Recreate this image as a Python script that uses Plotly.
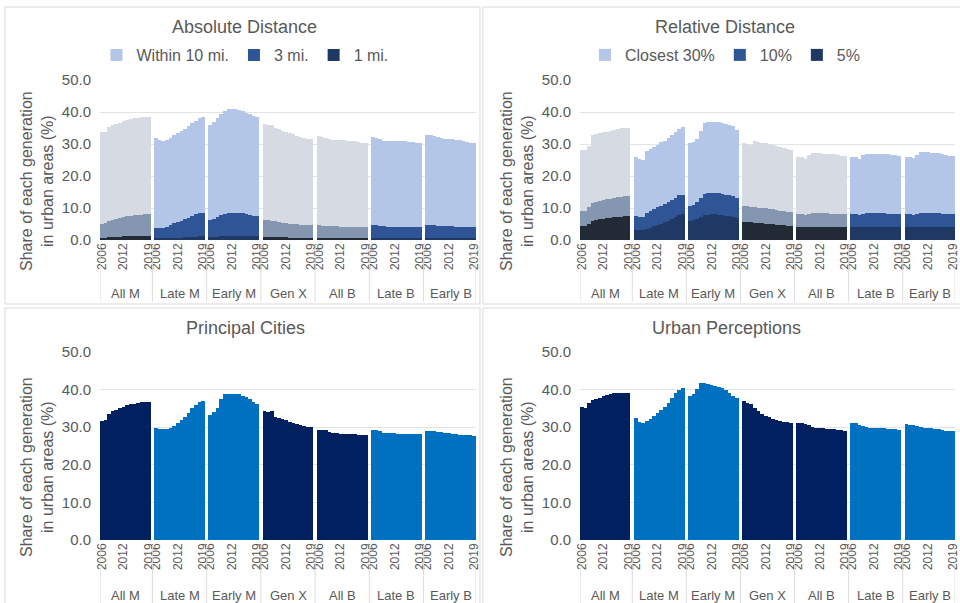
import plotly.graph_objects as go

# ---------------- data ----------------
YEARS = list(range(2006, 2020))
GROUPS = ["All M", "Late M", "Early M", "Gen X", "All B", "Late B", "Early B"]
TICK_YEARS = [2006, 2012, 2019]
Y_TICKS = [0, 10, 20, 30, 40, 50]
GREY_GROUPS = ["All M", "Gen X", "All B"]

# Absolute distance (share within X miles), one row per group
ABS_10MI = [
    [33.6, 33.8, 35.3, 35.8, 36.3, 36.7, 37.1, 37.5, 37.8, 38.0, 38.2, 38.3, 38.4, 38.4],
    [31.8, 31.2, 31.0, 31.4, 32.0, 32.7, 33.3, 34.0, 34.8, 35.5, 36.5, 37.3, 38.0, 38.5],
    [36.0, 37.0, 38.0, 39.5, 40.4, 40.8, 40.9, 40.8, 40.6, 40.2, 39.8, 39.3, 38.8, 38.3],
    [36.2, 36.0, 35.8, 35.0, 34.6, 34.2, 33.8, 33.4, 33.0, 32.6, 32.3, 32.0, 31.7, 31.6],
    [32.4, 32.3, 32.0, 31.5, 31.3, 31.2, 31.1, 31.1, 31.0, 30.9, 30.8, 30.6, 30.4, 30.3],
    [32.2, 32.0, 31.5, 31.0, 30.9, 30.8, 30.8, 30.8, 30.8, 30.8, 30.7, 30.5, 30.3, 30.2],
    [32.8, 32.7, 32.6, 32.3, 31.8, 31.6, 31.5, 31.5, 31.3, 31.1, 30.9, 30.6, 30.4, 30.3],
]
ABS_3MI = [
    [5.0, 5.3, 5.8, 6.3, 6.7, 7.0, 7.2, 7.4, 7.6, 7.7, 7.8, 7.9, 8.0, 8.0],
    [3.8, 3.7, 3.8, 4.2, 4.7, 5.2, 5.6, 6.0, 6.5, 7.0, 7.5, 8.0, 8.3, 8.3],
    [6.2, 6.5, 7.2, 7.8, 8.2, 8.4, 8.4, 8.5, 8.4, 8.3, 8.0, 7.8, 7.6, 7.5],
    [6.3, 6.2, 6.0, 5.8, 5.6, 5.4, 5.2, 5.1, 5.0, 4.9, 4.8, 4.7, 4.6, 4.6],
    [4.6, 4.5, 4.5, 4.4, 4.3, 4.3, 4.2, 4.2, 4.2, 4.1, 4.1, 4.1, 4.1, 4.1],
    [4.7, 4.6, 4.5, 4.3, 4.2, 4.2, 4.2, 4.2, 4.2, 4.2, 4.2, 4.1, 4.1, 4.1],
    [4.6, 4.6, 4.6, 4.5, 4.4, 4.3, 4.3, 4.3, 4.2, 4.2, 4.1, 4.1, 4.0, 4.0],
]
ABS_1MI = [
    [0.6, 0.7, 0.8, 0.9, 1.0, 1.0, 1.1, 1.2, 1.2, 1.3, 1.3, 1.4, 1.4, 1.4],
    [0.4, 0.4, 0.4, 0.5, 0.5, 0.6, 0.7, 0.7, 0.8, 0.9, 0.9, 1.0, 1.1, 1.1],
    [0.8, 0.9, 1.0, 1.1, 1.2, 1.2, 1.3, 1.3, 1.2, 1.2, 1.2, 1.1, 1.1, 1.1],
    [0.9, 0.9, 0.9, 0.8, 0.8, 0.8, 0.8, 0.7, 0.7, 0.7, 0.7, 0.7, 0.7, 0.7],
    [0.6, 0.6, 0.6, 0.6, 0.6, 0.6, 0.6, 0.6, 0.6, 0.6, 0.6, 0.6, 0.6, 0.6],
    [0.6, 0.6, 0.6, 0.6, 0.6, 0.6, 0.6, 0.6, 0.6, 0.6, 0.6, 0.6, 0.6, 0.6],
    [0.6, 0.6, 0.6, 0.6, 0.6, 0.6, 0.6, 0.6, 0.6, 0.6, 0.6, 0.6, 0.6, 0.6],
]

# Relative distance (closest X% of tracts)
REL_30 = [
    [28.0, 28.1, 29.5, 32.7, 33.0, 33.3, 33.6, 33.9, 34.2, 34.5, 34.7, 34.9, 35.0, 35.0],
    [25.8, 25.2, 25.0, 27.8, 28.5, 29.2, 29.8, 30.5, 31.0, 31.8, 32.8, 33.8, 34.8, 35.2],
    [30.2, 30.5, 31.5, 34.0, 36.7, 37.0, 37.0, 37.0, 36.8, 36.6, 36.3, 36.0, 35.5, 34.5],
    [30.2, 30.0, 29.8, 30.8, 30.7, 30.4, 30.2, 29.9, 29.6, 29.3, 29.0, 28.7, 28.4, 28.2],
    [25.8, 25.8, 25.4, 26.6, 27.3, 27.2, 27.1, 27.0, 27.0, 26.9, 26.8, 26.6, 26.4, 26.3],
    [25.9, 25.8, 25.4, 26.6, 27.0, 27.0, 27.0, 27.0, 27.0, 26.9, 26.8, 26.7, 26.5, 26.4],
    [26.0, 25.8, 25.7, 26.6, 27.6, 27.5, 27.4, 27.3, 27.2, 27.1, 26.9, 26.7, 26.4, 26.2],
]
REL_10 = [
    [9.0, 9.2, 10.2, 11.7, 12.0, 12.3, 12.5, 12.7, 12.9, 13.1, 13.3, 13.5, 13.6, 13.6],
    [7.5, 7.3, 7.2, 8.5, 9.2, 9.8, 10.2, 10.7, 11.2, 11.8, 12.5, 13.2, 14.0, 14.2],
    [10.5, 11.0, 11.8, 13.0, 14.5, 14.7, 14.8, 14.8, 14.6, 14.4, 14.2, 14.0, 13.6, 13.2],
    [10.5, 10.5, 10.4, 10.3, 10.1, 10.0, 9.9, 9.8, 9.6, 9.4, 9.2, 9.0, 8.9, 8.8],
    [8.2, 8.0, 7.8, 8.2, 8.3, 8.3, 8.3, 8.3, 8.3, 8.2, 8.2, 8.1, 8.1, 8.0],
    [8.2, 8.1, 7.9, 8.2, 8.3, 8.3, 8.3, 8.3, 8.3, 8.3, 8.2, 8.2, 8.1, 8.1],
    [8.1, 8.0, 7.9, 8.2, 8.5, 8.5, 8.4, 8.4, 8.3, 8.3, 8.2, 8.2, 8.1, 8.0],
]
REL_5 = [
    [4.3, 4.5, 5.0, 6.0, 6.3, 6.5, 6.7, 6.9, 7.0, 7.1, 7.2, 7.3, 7.4, 7.4],
    [3.2, 3.0, 3.0, 3.5, 3.9, 4.3, 4.7, 5.1, 5.5, 6.0, 6.6, 7.2, 7.8, 8.0],
    [5.8, 6.2, 6.7, 7.2, 7.8, 7.9, 8.0, 8.0, 7.9, 7.8, 7.6, 7.4, 7.2, 7.0],
    [5.7, 5.6, 5.5, 5.4, 5.3, 5.2, 5.1, 5.0, 4.9, 4.8, 4.7, 4.6, 4.5, 4.4],
    [4.1, 4.0, 4.0, 4.0, 4.0, 4.0, 4.0, 4.0, 4.0, 4.0, 4.0, 4.0, 4.0, 4.0],
    [4.0, 4.0, 4.0, 4.0, 4.0, 4.0, 4.0, 4.0, 4.0, 4.0, 4.0, 4.0, 4.0, 4.0],
    [4.0, 4.0, 4.0, 4.0, 4.0, 4.0, 4.0, 4.0, 4.0, 4.0, 4.0, 4.0, 4.0, 4.0],
]

PRINCIPAL_CITIES = [
    [31.6, 31.8, 33.5, 34.2, 34.7, 35.1, 35.5, 35.8, 36.1, 36.3, 36.5, 36.6, 36.6, 36.6],
    [29.8, 29.4, 29.4, 29.5, 29.8, 30.3, 31.0, 31.8, 32.7, 33.8, 35.0, 36.0, 36.6, 37.0],
    [33.3, 34.0, 35.0, 37.5, 38.8, 38.8, 38.8, 38.8, 38.7, 38.4, 38.0, 37.5, 36.8, 36.2],
    [34.2, 34.0, 34.4, 32.8, 32.4, 32.1, 31.8, 31.5, 31.2, 30.9, 30.6, 30.3, 30.1, 30.0],
    [29.2, 29.2, 29.3, 28.6, 28.5, 28.4, 28.3, 28.3, 28.2, 28.2, 28.1, 28.0, 28.0, 27.9],
    [29.2, 29.2, 29.0, 28.4, 28.4, 28.4, 28.4, 28.3, 28.3, 28.3, 28.3, 28.2, 28.2, 28.1],
    [29.0, 29.0, 29.1, 28.8, 28.6, 28.5, 28.4, 28.3, 28.2, 28.0, 27.9, 27.9, 27.8, 27.6],
]
URBAN_PERCEPTIONS = [
    [35.3, 35.2, 36.5, 37.2, 37.6, 37.9, 38.2, 38.5, 38.8, 39.0, 39.1, 39.1, 39.1, 39.0],
    [32.4, 31.5, 31.2, 31.6, 32.3, 33.0, 33.8, 34.6, 35.5, 36.5, 37.7, 39.0, 39.8, 40.3],
    [38.3, 38.8, 40.2, 41.8, 41.8, 41.5, 41.2, 41.0, 40.8, 40.5, 39.8, 39.0, 38.3, 37.9],
    [37.0, 36.5, 36.2, 35.0, 34.2, 33.6, 33.1, 32.7, 32.3, 32.0, 31.7, 31.4, 31.3, 31.2],
    [31.2, 31.0, 30.8, 30.5, 30.1, 29.9, 29.8, 29.7, 29.6, 29.5, 29.4, 29.3, 29.2, 29.1],
    [31.2, 31.0, 30.7, 30.3, 30.0, 29.9, 29.8, 29.8, 29.7, 29.7, 29.6, 29.5, 29.4, 29.3],
    [30.8, 30.6, 30.6, 30.3, 30.0, 29.9, 29.8, 29.7, 29.6, 29.4, 29.3, 29.1, 29.0, 28.9],
]

# ---------------- style ----------------
W, H = 960, 603
FONT = "Liberation Sans, Arial, sans-serif"
TXT = "#595959"
GAP = 1.0
NY = len(YEARS)
SPAN = len(GROUPS) * NY + (len(GROUPS) - 1) * GAP

GREY_COLS = ["#d6dae3", "#8597b0", "#222a35"]
BLUE_COLS = ["#b4c6e7", "#2f5597", "#1f3864"]
SINGLE_COLS = ["#002060", "#0070c0"]  # grey-groups colour, other groups colour


def px_x(p):
    return p / W


def px_y(p):
    return 1 - p / H


def pos(g, yr):
    return g * (NY + GAP) + (yr - YEARS[0]) + 0.5


PANELS = [
    dict(name="Absolute Distance", ax="", x0=100, x1=476, ytop=80, ybot=240, ox=0,
         tcy=27, gl=293, box=(5, 7, 480, 304), legend="legend", lx=245),
    dict(name="Relative Distance", ax="2", x0=580, x1=955, ytop=80, ybot=240, ox=480,
         tcy=27, gl=293, box=(483, 7, 962, 304), legend="legend2", lx=725),
    dict(name="Principal Cities", ax="3", x0=100, x1=476, ytop=352, ybot=540, ox=0,
         tcy=328, gl=595, box=(5, 308, 480, 605), legend=None, lx=246),
    dict(name="Urban Perceptions", ax="4", x0=580, x1=955, ytop=352, ybot=540, ox=480,
         tcy=328, gl=595, box=(483, 308, 962, 605), legend=None, lx=726),
]

SERIES = [
    [("Within 10 mi.", ABS_10MI), ("3 mi.", ABS_3MI), ("1 mi.", ABS_1MI)],
    [("Closest 30%", REL_30), ("10%", REL_10), ("5%", REL_5)],
    [("Principal Cities", PRINCIPAL_CITIES)],
    [("Urban Perceptions", URBAN_PERCEPTIONS)],
]

fig = go.Figure()
shapes = []
annotations = []

for pi, (panel, series) in enumerate(zip(PANELS, SERIES)):
    xa = "x" + panel["ax"]
    ya = "y" + panel["ax"]
    grey_idx = [GROUPS.index(g) for g in GREY_GROUPS]
    blue_idx = [i for i in range(len(GROUPS)) if i not in grey_idx]
    for si, (sname, data) in enumerate(series):
        for kind, idxs in (("grey", grey_idx), ("blue", blue_idx)):
            xs, ys = [], []
            for g in idxs:
                for k, yr in enumerate(YEARS):
                    xs.append(pos(g, yr))
                    ys.append(data[g][k])
            if len(series) > 1:
                col = GREY_COLS[si] if kind == "grey" else BLUE_COLS[si]
            else:
                col = SINGLE_COLS[0] if kind == "grey" else SINGLE_COLS[1]
            show = panel["legend"] is not None and kind == "blue"
            fig.add_trace(go.Bar(
                x=xs, y=ys, width=1.0, name=sname,
                marker=dict(color=col, line=dict(width=0)),
                xaxis=xa, yaxis=ya, showlegend=show,
                legend=panel["legend"] if panel["legend"] else "legend",
                hoverinfo="skip",
            ))

    tickvals, ticktext = [], []
    for g in range(len(GROUPS)):
        for yr in TICK_YEARS:
            tickvals.append(pos(g, yr))
            ticktext.append(str(yr))
    xkey = "xaxis" + panel["ax"]
    ykey = "yaxis" + panel["ax"]
    fig.layout[xkey] = dict(
        domain=[px_x(panel["x0"]), px_x(panel["x1"])],
        range=[0, SPAN], anchor=ya, showgrid=False, zeroline=False,
        tickmode="array", tickvals=tickvals, ticktext=ticktext, tickangle=-90,
        tickfont=dict(family=FONT, size=12, color=TXT), showline=False,
        ticks="", fixedrange=True, automargin=False, ticklabeloverflow="allow",
    )
    fig.layout[ykey] = dict(
        domain=[px_y(panel["ybot"]), px_y(panel["ytop"])],
        range=[0, 50], anchor=xa, tickmode="array", tickvals=Y_TICKS,
        ticktext=[f"{v:.1f}" for v in Y_TICKS],
        tickfont=dict(family=FONT, size=15, color=TXT),
        showgrid=True, gridcolor="#e4e4e4", gridwidth=1, zeroline=False,
        ticklabelstandoff=8, fixedrange=True, automargin=False,
    )

    annotations.append(dict(
        text=panel["name"], x=px_x(panel["lx"]), y=px_y(panel["tcy"]),
        xref="paper", yref="paper", showarrow=False, xanchor="center", yanchor="middle",
        font=dict(family=FONT, size=18, color=TXT),
    ))
    annotations.append(dict(
        text="Share of each generation<br>in urban areas (%)",
        x=px_x(panel["ox"] + 37), y=px_y((panel["ytop"] + panel["ybot"]) / 2 + 21),
        xref="paper", yref="paper", showarrow=False, textangle=-90,
        xanchor="center", yanchor="middle",
        font=dict(family=FONT, size=16, color=TXT),
    ))
    for g, gname in enumerate(GROUPS):
        annotations.append(dict(
            text=gname, x=(pos(g, YEARS[0]) + pos(g, YEARS[-1])) / 2, xref=xa,
            y=px_y(panel["gl"]), yref="paper", showarrow=False,
            xanchor="center", yanchor="middle",
            font=dict(family=FONT, size=13, color=TXT),
        ))
    seps = [0] + [g * (NY + GAP) - GAP / 2 for g in range(1, len(GROUPS))] + [SPAN]
    for s in seps:
        shapes.append(dict(
            type="line", xref=xa, yref="paper", x0=s, x1=s,
            y0=px_y(panel["ybot"] + 5), y1=px_y(panel["box"][3] - 2),
            line=dict(color="#dcdcdc", width=1),
        ))
    bx0, by0, bx1, by1 = panel["box"]
    shapes.append(dict(
        type="rect", xref="paper", yref="paper",
        x0=px_x(bx0), x1=px_x(bx1), y0=px_y(by1), y1=px_y(by0),
        line=dict(color="#d9d9d9", width=1), fillcolor="rgba(0,0,0,0)",
    ))

legend_common = dict(
    orientation="h", xanchor="center", yanchor="middle", y=px_y(55),
    font=dict(family=FONT, size=16, color=TXT), bgcolor="rgba(0,0,0,0)",
    itemwidth=30, traceorder="normal", itemclick=False, itemdoubleclick=False,
)

fig.update_layout(
    template="none",
    width=W, height=H, margin=dict(l=0, r=0, t=0, b=0, autoexpand=False),
    paper_bgcolor="white", plot_bgcolor="white",
    barmode="overlay", bargap=0,
    showlegend=True,
    legend=dict(x=px_x(245), **legend_common),
    legend2=dict(x=px_x(725), **legend_common),
    shapes=shapes, annotations=annotations,
    font=dict(family=FONT, color=TXT),
)

fig.write_html(
    "out.html",
    config={"displayModeBar": False},
    post_script="document.body.style.margin='0';document.body.style.overflow='hidden';",
)
